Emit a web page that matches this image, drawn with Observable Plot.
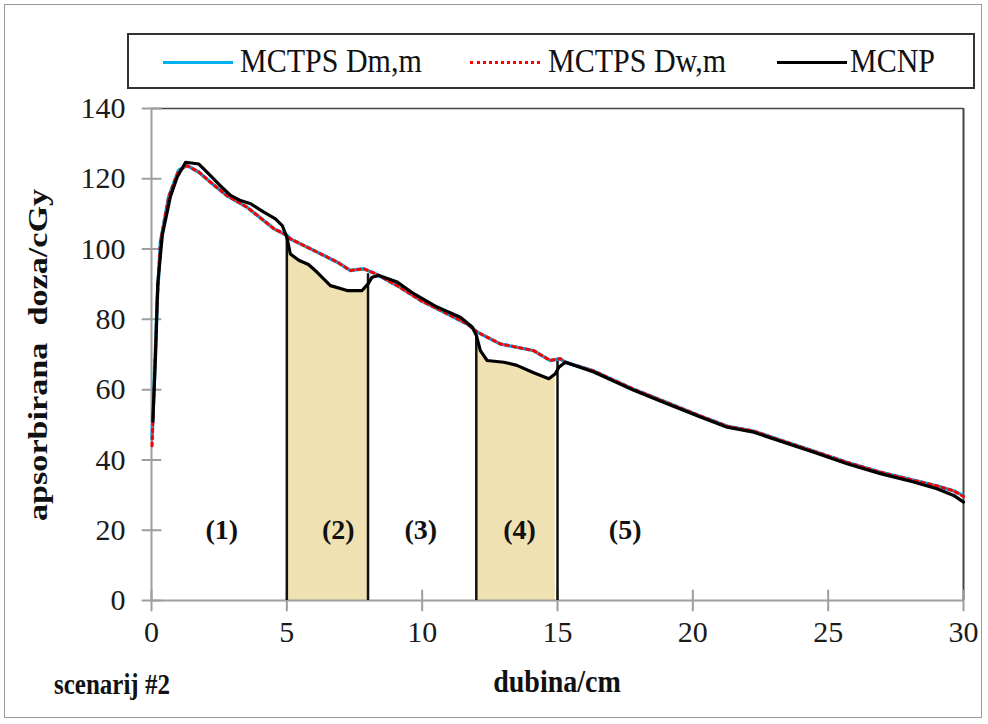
<!DOCTYPE html>
<html>
<head>
<meta charset="utf-8">
<script src="https://cdn.jsdelivr.net/npm/d3@7"></script>
<script src="https://cdn.jsdelivr.net/npm/@observablehq/plot@0.6"></script>
<style>
  html, body { margin: 0; padding: 0; background: #fff; }
  #wrap { position: relative; width: 988px; height: 724px; overflow: hidden; font-family: "Liberation Serif", "Times New Roman", serif; }
  #frame { position: absolute; left: 4px; top: 4px; width: 978px; height: 714px; border: 1.5px solid #9a9a9a; box-sizing: border-box; }
  #chart { position: absolute; left: 0; top: 0; }
  #legend { position: absolute; left: 127px; top: 33px; width: 848px; height: 56px; border: 2px solid #333; box-sizing: border-box; background: #fff; }
  .lg { position: absolute; top: 8px; font-size: 30px; color: #111; white-space: nowrap; transform: scaleY(1.15); transform-origin: left center; }
  .sw { position: absolute; top: 26px; height: 0; }
  .t { position: absolute; font-weight: bold; color: #111; white-space: pre; }
</style>
</head>
<body>
<div id="wrap">
  <div id="frame"></div>
  <div id="chart"></div>
  <div id="legend"></div>
  <div class="t" id="ytitle" style="left:38px; top:355px; font-size:28px; transform: translate(-50%,-50%) rotate(-90deg) scaleX(1.22);">apsorbirana  doza/cGy</div>
  <div class="t" style="left:557px; top:666px; font-size:28px; transform: translateX(-50%) scaleY(1.15);">dubina/cm</div>
  <div class="t" style="left:54px; top:671px; font-size:25px; transform: scaleY(1.15);">scenarij #2</div>
</div>
<script>
// ---- data ----
const seriesNames = ["MCTPS Dm,m", "MCTPS Dw,m", "MCNP"];
const seriesColors = ["#00b0f0", "#ff0000", "#000000"];

const mcnpDepth = [0.05,0.15,0.23,0.4,0.7,0.95,1.26,1.75,2.05,2.55,2.92,3.29,3.66,4.15,4.58,4.83,5.0,5.13,5.44,5.8,6.12,6.61,7.23,7.78,8.0,8.15,8.4,9.08,9.69,10.55,11.41,11.85,12.0,12.15,12.4,13.02,13.5,14.12,14.68,14.92,15.05,15.29,16.34,17.82,19.05,20.28,21.27,22.25,23.24,24.47,25.7,26.93,28.16,29.02,29.64,30];
const mcnpDose  = [51,70,90,104,115,120.5,124.7,124.2,121.9,118,115.3,113.8,112.9,110.5,108.6,106.7,103.4,98.6,96.8,95.6,93.4,89.6,88.2,88.2,90.1,92,92.5,90.6,87.3,83.5,80.6,77.8,75.5,71.1,68.3,67.8,66.9,64.8,63.1,64.5,66.4,67.8,65,59.8,56,52.2,49.3,47.9,45.3,42.2,38.9,36.1,33.7,31.8,29.9,28];

const tpsDepth = [0.02,0.1,0.21,0.33,0.64,1.0,1.32,1.75,2.24,2.79,3.53,4.52,5.01,5.13,6.0,6.86,7.35,7.84,8.27,9.08,9.94,10.92,11.66,12.03,12.89,14.12,14.73,15.1,15.29,16.34,17.82,19.05,20.28,21.27,22.25,23.24,24.47,25.7,26.93,28.16,29.02,29.64,30];
const doseDmm  = [46,62,85,102,115,122.4,123.8,121.9,118.6,115.2,111.9,105.8,103.9,102.9,99.6,96.3,93.9,94.4,93,89.6,85.4,81.6,78.7,76.4,73,71.1,68.3,68.8,67.8,65.3,60.1,56.3,52.5,49.6,48.2,45.6,42.5,39.3,36.5,34.2,32.6,31.2,29.8];
const doseDwm  = [44,61,85,102,115,122.3,123.7,121.9,118.6,115.2,111.9,105.8,103.9,102.9,99.6,96.3,93.9,94.4,93,89.6,85.4,81.6,78.7,76.4,73,71.1,68.3,68.8,67.8,65.3,60.1,56.3,52.5,49.6,48.2,45.6,42.5,39.3,36.5,34.2,32.6,31.2,29.6];

const shadeStart = [5, 12];
const shadeEnd   = [8, 15];
const boundaries   = [5, 8, 12, 15];
const boundaryTops = [104, 93, 76, 68.5];

const regionLabels = ["(1)", "(2)", "(3)", "(4)", "(5)"];
const regionX      = [2.6, 6.9, 9.95, 13.6, 17.5];
const regionY      = [20, 20, 20, 20, 20];

const xTicks = [0, 5, 10, 15, 20, 25, 30];
const yTicks = [0, 20, 40, 60, 80, 100, 120, 140];

// ---- build tables ----
const mcnp = mcnpDepth.map((x, i) => ({x, y: mcnpDose[i]}));
const dmm = tpsDepth.map((x, i) => ({x, y: doseDmm[i]}));
const dwm = tpsDepth.map((x, i) => ({x, y: doseDwm[i]}));
const shaded = shadeStart.map((s, k) => mcnp.filter(d => d.x >= s && d.x <= shadeEnd[k]));
const regions = regionLabels.map((t, i) => ({t, x: regionX[i], y: regionY[i]}));

const axisGray = "#9e9e9e";
const tickShape = {draw(context, l) { context.moveTo(0, 0); context.lineTo(0, -l); }};

const chart = Plot.plot({
  width: 988,
  height: 724,
  marginLeft: 151,
  marginRight: 25,
  marginTop: 108,
  marginBottom: 124,
  x: {domain: [0, 30], label: null},
  y: {domain: [0, 140], label: null},
  style: {fontFamily: "'Liberation Serif', 'Times New Roman', serif", fontSize: "30px", color: "#1a1a1a", background: "transparent", overflow: "visible"},
  marks: [
    ...shaded.map(seg => Plot.areaY(seg, {x: "x", y: "y", fill: "#efe1b1", curve: "linear"})),
    Plot.ruleY([140], {stroke: "#444", strokeWidth: 1.5}),
    Plot.ruleX([30], {stroke: "#444", strokeWidth: 2}),
    Plot.ruleX([0], {stroke: axisGray, strokeWidth: 2}),
    Plot.ruleY([0], {stroke: axisGray, strokeWidth: 2}),
    // crossing tick marks on both axes
    Plot.vector(yTicks, {x: xTicks[0], y: d => d, rotate: 90, length: 18, anchor: "middle", stroke: axisGray, strokeWidth: 2, shape: tickShape}),
    Plot.vector(xTicks, {x: d => d, y: yTicks[0], rotate: 0, length: 20, anchor: "middle", stroke: axisGray, strokeWidth: 2, shape: tickShape}),
    Plot.axisY({ticks: yTicks, tickSize: 0, tickPadding: 26, label: null, fill: "#1a1a1a"}),
    Plot.axisX({ticks: xTicks, tickSize: 0, tickPadding: 20, label: null, fill: "#1a1a1a"}),
    Plot.ruleX(boundaries, {x: d => d, y1: 0, y2: (d, i) => boundaryTops[i], stroke: "#111", strokeWidth: 2.5}),
    Plot.line(dmm, {x: "x", y: "y", stroke: seriesColors[0], strokeWidth: 3.5}),
    Plot.line(dwm, {x: "x", y: "y", stroke: seriesColors[1], strokeWidth: 3, strokeDasharray: "3,4"}),
    Plot.line(mcnp, {x: "x", y: "y", stroke: seriesColors[2], strokeWidth: 3.2, strokeLinejoin: "round"}),
    Plot.text(regions, {x: "x", y: "y", text: "t", fontWeight: "bold", fontSize: 28, fill: "#111"})
  ]
});
document.getElementById("chart").appendChild(chart);

// ---- legend ----
const legend = document.getElementById("legend");
const swLeft = [34, 341, 648];
const txtLeft = [111, 419, 721];
seriesNames.forEach((name, i) => {
  const sw = document.createElement("div");
  sw.className = "sw";
  sw.style.left = swLeft[i] + "px";
  sw.style.width = "70px";
  if (i === 1) {
    sw.style.borderTop = "3px dotted " + seriesColors[i];
  } else {
    sw.style.borderTop = "3.5px solid " + seriesColors[i];
  }
  legend.appendChild(sw);
  const tx = document.createElement("div");
  tx.className = "lg";
  tx.style.left = txtLeft[i] + "px";
  tx.textContent = name;
  legend.appendChild(tx);
});
</script>
</body>
</html>
